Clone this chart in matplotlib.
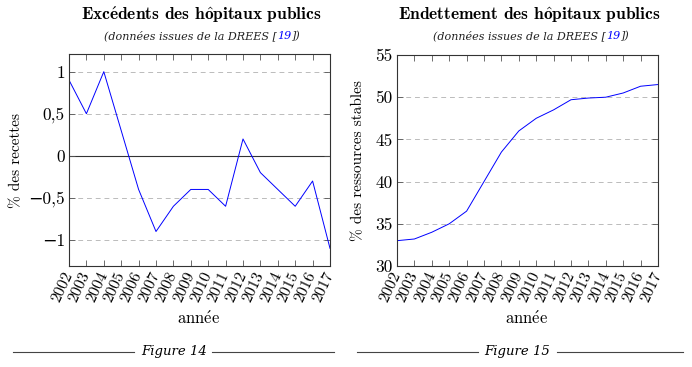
import numpy as np
import matplotlib
matplotlib.use("Agg")
import matplotlib.pyplot as plt
from matplotlib.lines import Line2D

# --- données ---
annees = list(range(2002, 2018))
excedents = [0.9, 0.5, 1.0, 0.3, -0.4, -0.9, -0.6, -0.4, -0.4, -0.6, 0.2, -0.2, -0.4, -0.6, -0.3, -1.1]
endettement = [33.0, 33.2, 34.0, 35.0, 36.5, 40.0, 43.5, 46.0, 47.5, 48.5, 49.7, 49.9, 50.0, 50.5, 51.3, 51.5]

yt_gauche = [-1, -0.5, 0, 0.5, 1]
yl_gauche = ["\u22121", "\u22120,5", "0", "0,5", "1"]
yt_droite = [30, 35, 40, 45, 50, 55]
yl_droite = ["30", "35", "40", "45", "50", "55"]

ROM = ["cmr10", "DejaVu Serif"]
BOLD = ["cmb10", "DejaVu Serif"]
plt.rcParams["axes.unicode_minus"] = False
plt.rcParams["mathtext.fontset"] = "cm"

# accents en mathtext pour rester en Computer Modern
titres = [r"Exc$\mathbf{\acute{e}}$dents des h$\mathbf{\hat{o}}$pitaux publics",
          r"Endettement des h$\mathbf{\hat{o}}$pitaux publics"]
xlabel = r"ann$\mathrm{\acute{e}}$e"

W, H = 692, 367
fig = plt.figure(figsize=(W / 100, H / 100), dpi=100)


def px(x0, y0, x1, y1):
    # pixels (haut-gauche) -> fraction de figure
    return [x0 / W, 1 - y1 / H, (x1 - x0) / W, (y1 - y0) / H]


def style_axe(ax, yt, yl):
    ax.set_xlim(annees[0], annees[-1])
    ax.set_xticks(annees)
    ax.set_xticklabels([str(a) for a in annees], rotation=65, ha="right",
                       va="center", rotation_mode="anchor", family=ROM, fontsize=11.5)
    ax.set_yticks(yt)
    ax.set_yticklabels(yl, family=ROM, fontsize=12.5)
    ax.tick_params(direction="in", top=True, right=True, length=4, width=0.6,
                   color="#555555", pad=3)
    ax.tick_params(axis="x", pad=5)
    for s in ax.spines.values():
        s.set_linewidth(0.8)
        s.set_color("#333333")
    for y in yt:
        ax.axhline(y, color="#bbbbbb", lw=0.7, ls=(0, (5, 4)), zorder=0)


# --- Figure 14 ---
ax1 = fig.add_axes(px(69, 54, 330, 266))
ax1.plot(annees, excedents, color="blue", lw=0.7)
ax1.set_ylim(-1.31, 1.21)
style_axe(ax1, yt_gauche, yl_gauche)
ax1.axhline(0, color="#333333", lw=0.8, zorder=1)
ax1.set_ylabel("% des recettes", family=ROM, fontsize=11)
ax1.yaxis.set_label_coords(-0.176, 0.5)

# --- Figure 15 ---
ax2 = fig.add_axes(px(397, 55, 658, 266))
ax2.plot(annees, endettement, color="blue", lw=0.7)
ax2.set_ylim(30, 55)
style_axe(ax2, yt_droite, yl_droite)
ax2.set_ylabel("% des ressources stables", family=ROM, fontsize=11)
ax2.yaxis.set_label_coords(-0.123, 0.5)

# titres, sous-titres, légendes
for cx, titre, x_sous, cap_x, num in [(201, titres[0], 104, 174, "Figure 14"),
                                      (529, titres[1], 433, 517, "Figure 15")]:
    fig.text(cx / W, 1 - 15 / H, titre, ha="center", va="center", family=BOLD, fontsize=12.5)
    yb = 1 - 39 / H
    t1 = fig.text(x_sous / W, yb, "(données issues de la DREES [", ha="left", va="baseline",
                  family="DejaVu Serif", style="italic", fontsize=8, color="#222222")
    t2 = fig.text(0, yb, "19", va="baseline", family="DejaVu Serif", style="italic",
                  fontsize=8, color="blue")
    t3 = fig.text(0, yb, "])", va="baseline", family="DejaVu Serif", style="italic",
                  fontsize=8, color="#222222")
    fig.canvas.draw()
    r = fig.canvas.get_renderer()
    b1 = t1.get_window_extent(r)
    t2.set_x(b1.x1 / W)
    fig.canvas.draw()
    b2 = t2.get_window_extent(r)
    t3.set_x(b2.x1 / W)

    fig.text(cx / W - 2 / W, 1 - 318 / H, xlabel, ha="center", va="center", family=ROM, fontsize=12)
    fig.text(cap_x / W, 1 - 352 / H, num, ha="center", va="center",
             family="DejaVu Serif", style="italic", fontsize=9.5)

fig.add_artist(Line2D([13 / W, 134 / W], [1 - 352 / H] * 2, color="#444444", lw=0.8))
fig.add_artist(Line2D([212 / W, 334 / W], [1 - 352 / H] * 2, color="#444444", lw=0.8))
fig.add_artist(Line2D([357 / W, 478 / W], [1 - 352 / H] * 2, color="#444444", lw=0.8))
fig.add_artist(Line2D([557 / W, 683 / W], [1 - 352 / H] * 2, color="#444444", lw=0.8))

fig.savefig("out.png", dpi=100)
